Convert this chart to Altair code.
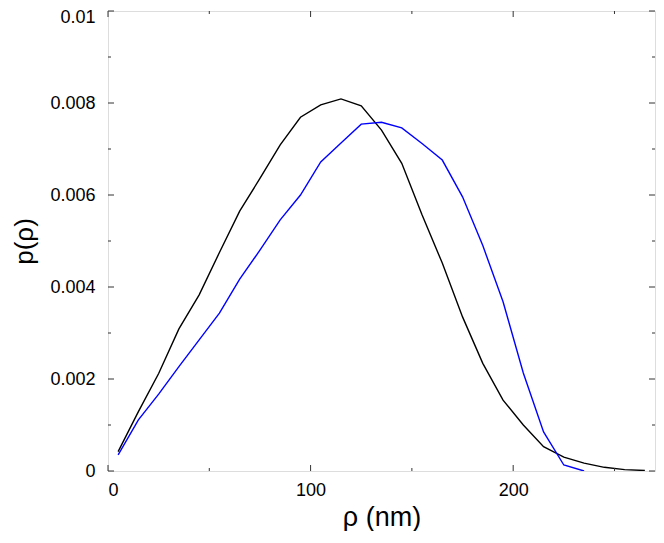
import altair as alt
import pandas as pd

x_black = [5, 15, 25, 35, 45, 55, 65, 75, 85, 95, 105, 115, 125, 135, 145, 155, 165, 175, 185, 195, 205, 215, 225, 235, 245, 255, 265]
y_black = [0.00042, 0.00129, 0.00212, 0.00309, 0.00383, 0.00475, 0.00565, 0.00636, 0.00709, 0.00769, 0.00796, 0.00809, 0.00794, 0.00741, 0.00669, 0.00557, 0.00452, 0.00335, 0.00234, 0.00154, 0.00100, 0.00053, 0.00030, 0.00017, 0.00008, 0.00003, 0.00001]

x_blue = [5, 15, 25, 35, 45, 55, 65, 75, 85, 95, 105, 115, 125, 135, 145, 155, 165, 175, 185, 195, 205, 215, 225, 235]
y_blue = [0.00035, 0.00111, 0.00167, 0.00227, 0.00285, 0.00343, 0.00417, 0.00480, 0.00546, 0.00600, 0.00672, 0.00713, 0.00754, 0.00758, 0.00746, 0.00712, 0.00676, 0.00596, 0.00490, 0.00368, 0.00213, 0.00085, 0.00013, 0.0]

x_major = [0, 100, 200]
x_minor = [50, 150, 250]
y_major = [0, 0.002, 0.004, 0.006, 0.008, 0.01]
y_minor = [0.001, 0.003, 0.005, 0.007, 0.009]

W, H = 547, 460
FONT = "Liberation Sans"

df = pd.concat([
    pd.DataFrame({"x": x_black, "y": y_black, "s": "black"}),
    pd.DataFrame({"x": x_blue, "y": y_blue, "s": "blue"}),
])

xs = alt.Scale(domain=[0, 270], nice=False, zero=False)
ys = alt.Scale(domain=[0, 0.01], nice=False)

lines = alt.Chart(df).mark_line(strokeWidth=1.4, clip=True).encode(
    x=alt.X("x:Q", scale=xs, title="ρ (nm)",
            axis=alt.Axis(values=x_major, ticks=False, domain=False, grid=False,
                          labelFontSize=18, labelFont=FONT, labelColor="black",
                          labelPadding=10, titleFontSize=27, titleFont=FONT,
                          titleFontWeight="normal", titleColor="black", titlePadding=5)),
    y=alt.Y("y:Q", scale=ys, title="p(ρ)",
            axis=alt.Axis(values=y_major, ticks=False, domain=False, grid=False,
                          labelFontSize=18, labelFont=FONT, labelColor="black",
                          labelPadding=13, titleFontSize=26, titleFont=FONT,
                          titleFontWeight="normal", titleColor="black", titlePadding=12,
                          labelOffset={"condition": {"test": "datum.value == 0.01", "value": 6}, "value": 0},
                          labelExpr="datum.value == 0 ? '0' : format(datum.value, '.3~f')")),
    color=alt.Color("s:N", scale=alt.Scale(domain=["black", "blue"], range=["#000000", "#0000ff"]), legend=None),
    detail="s:N",
)

def xticks(vals, length):
    d = pd.DataFrame({"v": vals})
    base = alt.Chart(d).mark_rule(color="#333333", strokeWidth=1)
    bottom = base.encode(x=alt.X("v:Q", scale=xs), y=alt.value(H), y2=alt.value(H - length))
    top = base.encode(x=alt.X("v:Q", scale=xs), y=alt.value(0), y2=alt.value(length))
    return [bottom, top]

def yticks(vals, length):
    d = pd.DataFrame({"v": vals})
    base = alt.Chart(d).mark_rule(color="#333333", strokeWidth=1)
    left = base.encode(y=alt.Y("v:Q", scale=ys), x=alt.value(0), x2=alt.value(length))
    right = base.encode(y=alt.Y("v:Q", scale=ys), x=alt.value(W), x2=alt.value(W - length))
    return [left, right]

layers = [lines] + xticks(x_major, 6) + xticks(x_minor, 3) + yticks(y_major, 6) + yticks(y_minor, 3)

chart = alt.layer(*layers).properties(
    width=W, height=H,
    autosize=alt.AutoSizeParams(type="none"),
    padding={"left": 100, "top": 3, "right": 1, "bottom": 60},
).configure_view(stroke="#222222", strokeWidth=1.2).configure(background="white")

chart.save("out.html", embed_options={"renderer": "svg", "actions": False})
